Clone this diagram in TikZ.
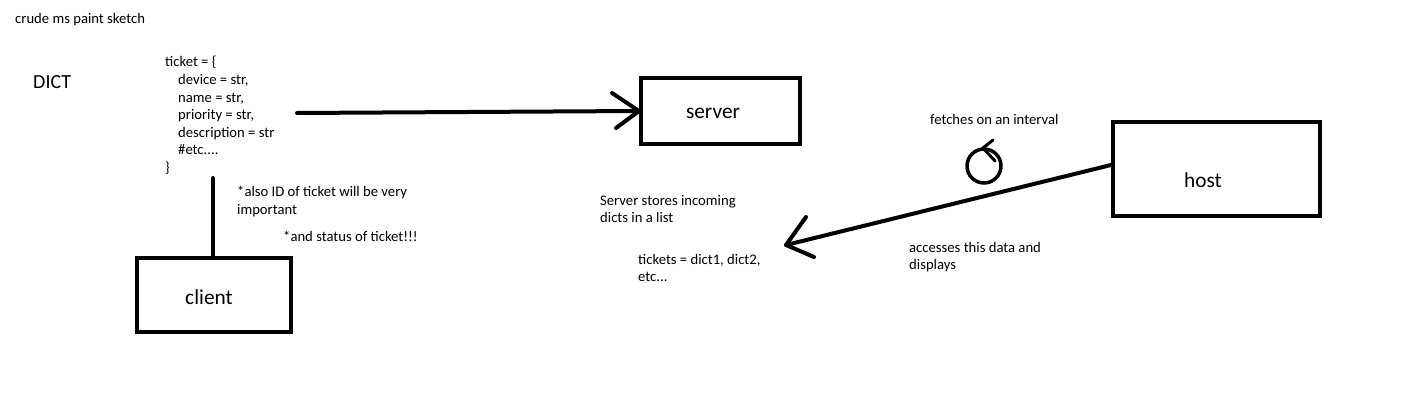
\documentclass[tikz,border=0pt]{standalone}
\usepackage{fontspec}
\setmainfont{Carlito}
\usetikzlibrary{calc}
\tikzset{
  boxnode/.style={draw, line width=4pt, minimum width=#1, inner sep=0pt},
  boxlabel/.style={inner sep=0pt, font=\fontsize{21.3}{24}\selectfont},
  note/.style={anchor=north west, inner sep=0pt, align=left, font=\fontsize{14.67}{17.6}\selectfont},
  conn/.style={line width=4pt, line cap=round, line join=round},
}
\begin{document}
\begin{tikzpicture}[x=1pt,y=-1pt]
\useasboundingbox (0,0) rectangle (1407,403);
\fill[white] (0,0) rectangle (1407,403);

% boxes
\node[boxnode=159pt, minimum height=66pt] (server) at (720.5,111) {};
\node[boxnode=207pt, minimum height=94pt] (host) at (1216.5,169) {};
\node[boxnode=154pt, minimum height=74pt] (client) at (214,295) {};
\node[boxlabel] (serverlabel) at (713,113) {server};
\node[boxlabel] (hostlabel) at (1203,180) {host};
\node[boxlabel] (clientlabel) at (209,297) {client};

% texts
\node[note] (title) at (15,13) {crude ms paint sketch};
\node[anchor=west, inner sep=0pt, font=\fontsize{20}{22}\selectfont] (dict) at (33,82) {DICT};
\node[note] (ticket) at (165,56) {ticket = \{\\
\hspace*{13pt}device = str,\\
\hspace*{13pt}name = str,\\
\hspace*{13pt}priority = str,\\
\hspace*{13pt}description = str\\
\hspace*{13pt}\#etc....\\
\}};
\node[note] (also) at (237,186) {*also ID of ticket will be very\\important};
\node[note] (status) at (283,231) {*and status of ticket!!!};
\node[note] (stores) at (600,195) {Server stores incoming\\dicts in a list};
\node[note] (tickets) at (638,254) {tickets = dict1, dict2,\\etc...};
\node[note] (fetch) at (930,114) {fetches on an interval};
\node[note] (access) at (909,242) {accesses this data and\\displays};

% connectors
\coordinate (dictend) at (297,113);
\draw[conn] (dictend) -- (server.west);
\draw[conn] ($(server.west)+(-27,-18)$) -- (server.west) -- ++(-23,17);

\coordinate (vtop) at (213,178);
\draw[conn] (vtop) -- (client.north -| vtop);

\coordinate (tip) at (786,245);
\draw[conn] ($(host.west)+(0,-4)$) -- (tip);
\draw[conn] ($(tip)+(20,-28)$) -- (tip) -- ++(28,12);

% interval loop
\coordinate (loopc) at (984,166);
\draw[line width=3.5pt] (loopc) circle[radius=17pt];
\draw[conn, line width=3pt] ($(loopc)+(9,-26)$) -- ($(loopc)+(-1,-18)$) -- ($(loopc)+(11,-5)$);
\end{tikzpicture}
\end{document}
